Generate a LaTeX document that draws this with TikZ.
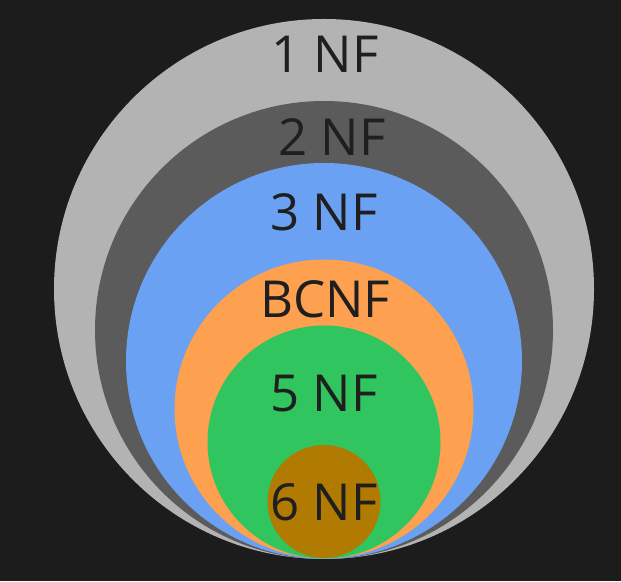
\documentclass[tikz,border=0pt]{standalone}
\usepackage{fontspec}
\setmainfont{Open Sans}
\definecolor{bg}{HTML}{1C1C1C}
\definecolor{cOne}{HTML}{B3B3B3}
\definecolor{cTwo}{HTML}{5B5B5B}
\definecolor{cThree}{HTML}{6AA1F2}
\definecolor{cBC}{HTML}{FDA04F}
\definecolor{cFive}{HTML}{30C55E}
\definecolor{cSix}{HTML}{B07B00}
\definecolor{txt}{HTML}{1F1F1F}
\begin{document}
\begin{tikzpicture}[x=1pt,y=1pt,
  ring/.style={circle,inner sep=0pt,draw=none},
  lbl/.style={text=txt,font=\fontsize{51}{51}\selectfont,inner sep=0pt,anchor=center}]
\fill[bg] (0,0) rectangle (621,581);
\useasboundingbox (0,0) rectangle (621,581);
\node[ring,fill=cOne,minimum size=540pt] (c1) at (324,292) {};
\node[ring,fill=cTwo,minimum size=458pt] (c2) at (324,251) {};
\node[ring,fill=cThree,minimum size=396pt] (c3) at (324,220) {};
\node[ring,fill=cBC,minimum size=299pt] (c4) at (324,172) {};
\node[ring,fill=cFive,minimum size=233pt] (c5) at (324,139) {};
\node[ring,fill=cSix,minimum size=113pt] (c6) at (324,79.5) {};
\node[lbl] (l1) at (325,527) {1 NF};
\node[lbl] (l2) at (332,444) {2 NF};
\node[lbl] (l3) at (324,369) {3 NF};
\node[lbl] (l4) at (325,282) {BCNF};
\node[lbl] (l5) at (324,187) {5 NF};
\node[lbl] (l6) at (324,79) {6 NF};
\end{tikzpicture}
\end{document}
